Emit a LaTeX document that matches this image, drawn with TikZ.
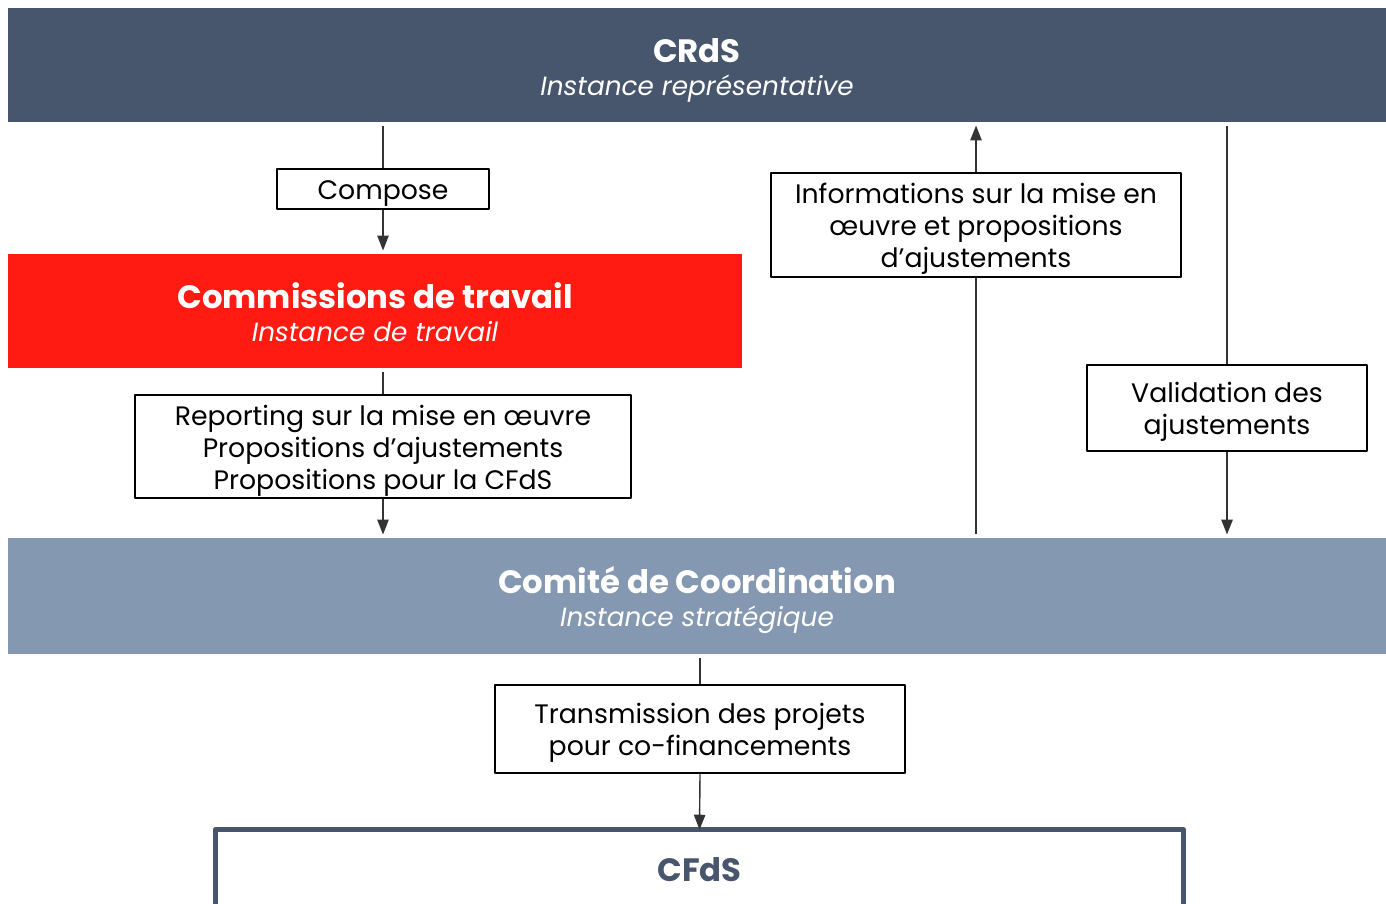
\documentclass[tikz,border=0pt]{standalone}
\usepackage{fontspec}
\setmainfont{Poppins}
\usetikzlibrary{arrows.meta,positioning}
\definecolor{ardoise}{RGB}{71,86,108}
\definecolor{rouge}{RGB}{255,26,18}
\definecolor{grisbleu}{RGB}{133,152,178}
\begin{document}
\begin{tikzpicture}[>={Triangle[length=8.5pt,width=6.5pt]}, line join=round,
	bande/.style={fill=#1, minimum width=27.56cm, minimum height=2.28cm, align=center, text=white, inner sep=0pt, outer sep=2pt},
	boite/.style={draw=black, line width=1.4pt, fill=white, align=center, font=\fontsize{15.2}{18.2}\selectfont, inner sep=0pt},
	fleche/.style={draw=black!80, line width=0.8pt}]
	\def\haut{\rule{0pt}{16.2pt}}
	\def\titre#1#2{\rule{0pt}{19.8pt}{\fontsize{18.4}{20}\selectfont\bfseries #1}\\[7pt]{\fontsize{15}{18}\selectfont\itshape #2}\rule[-4pt]{0pt}{4pt}}
	\useasboundingbox (0,0) rectangle (27.72,-18.06);
	% instances
	\node[bande=ardoise] (crds) at (13.94,-1.30) {\titre{CRdS}{Instance représentative}};
	\node[bande=rouge, minimum width=14.68cm] (comm) at (7.50,-6.22) {\titre{Commissions de travail}{Instance de travail}};
	\node[bande=grisbleu, minimum height=2.32cm] (comite) at (13.94,-11.92) {\titre{Comité de Coordination}{Instance stratégique}};
	\node[minimum width=19.34cm, minimum height=1.6cm, text=ardoise, font=\fontsize{18.4}{20}\selectfont\bfseries] (cfds) at (13.99,-17.40) {CFdS};
	\draw[ardoise, line width=2.8pt] (cfds.south west) |- (cfds.north east) -- (cfds.south east);
	% flux
	\node[boite, minimum width=4.24cm, minimum height=0.80cm] (compose) at (7.66,-3.78) {\haut Compose};
	\node[boite, minimum width=9.92cm, minimum height=2.06cm] (report) at (7.66,-8.93) {\haut Reporting sur la mise en œuvre\\Propositions d’ajustements\\Propositions pour la CFdS};
	\node[boite, minimum width=8.20cm, minimum height=2.08cm] (info) at (19.52,-4.50) {\haut Informations sur la mise en\\œuvre et propositions\\d’ajustements};
	\node[boite, minimum width=5.60cm, minimum height=1.72cm] (valid) at (24.54,-8.16) {\haut Validation des\\ajustements};
	\node[boite, minimum width=8.20cm, minimum height=1.76cm] (trans) at (14.00,-14.58) {\haut Transmission des projets\\pour co-financements};
	% liens
	\draw[fleche] (crds.south -| compose.north) -- (compose.north);
	\draw[fleche,->] (compose.south) -- (comm.north -| compose.south);
	\draw[fleche] (comm.south -| report.north) -- (report.north);
	\draw[fleche,->] (report.south) -- (comite.north -| report.south);
	\draw[fleche] (comite.north -| info.south) -- (info.south);
	\draw[fleche,->] (info.north) -- (crds.south -| info.north);
	\draw[fleche] (crds.south -| valid.north) -- (valid.north);
	\draw[fleche,->] (valid.south) -- (comite.north -| valid.south);
	\draw[fleche] (comite.south -| trans.north) -- (trans.north);
	\draw[fleche,->] (trans.south) -- (cfds.north);
\end{tikzpicture}
\end{document}
